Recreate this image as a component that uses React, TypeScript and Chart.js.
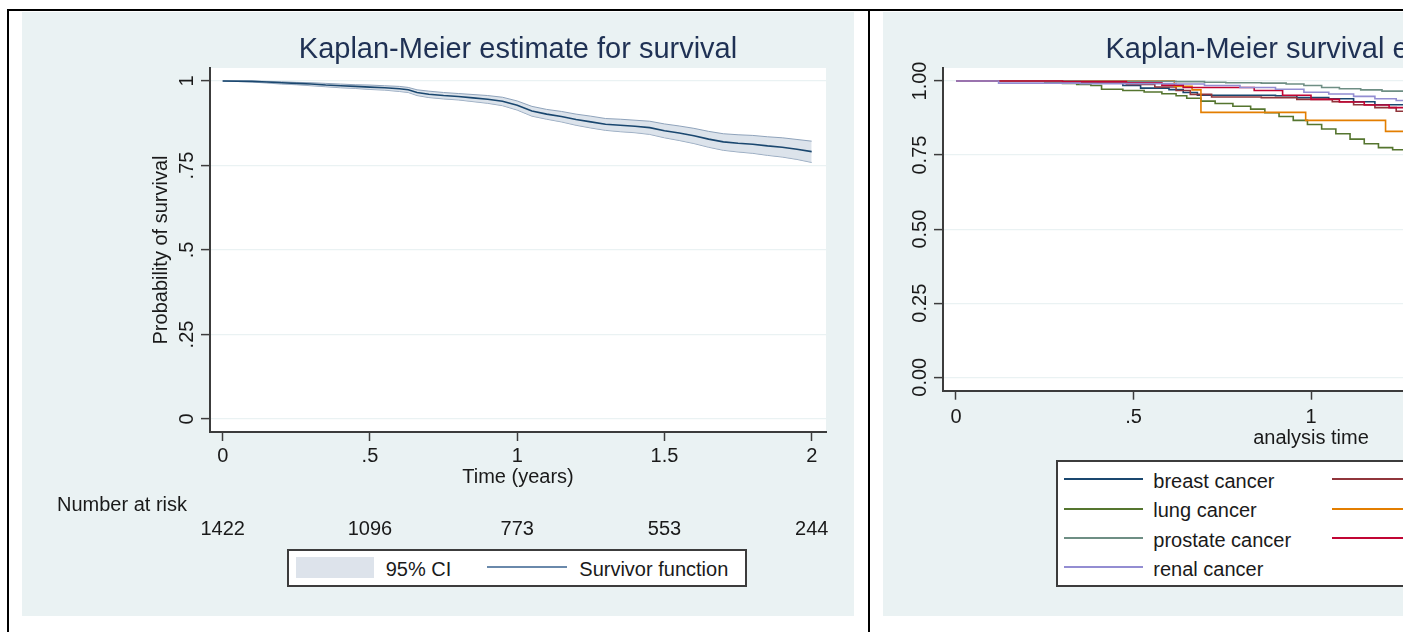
import React, { useEffect, useRef } from "react";
import { Chart, registerables } from "chart.js";

Chart.register(...registerables);

const FONT = "'Liberation Sans', Arial, Helvetica, sans-serif";
const TEXT = "#1a1a1a";
const TITLE_COLOR = "#1f3154";
const AXIS = "#3c3c3c";
const GRID = "#eaf2f3";
const BG = "#eaf2f3";
const NAVY = "#1a476f";
const CI_FILL = "rgba(196,208,222,0.6)";
const CI_EDGE = "#8fa3bb";

// ---------- Left panel: overall Kaplan-Meier estimate ----------
const kmTime = [0, 0.1, 0.15, 0.2, 0.25, 0.3, 0.35, 0.4, 0.45, 0.5, 0.55, 0.6, 0.63, 0.66, 0.7, 0.75, 0.8, 0.85, 0.9, 0.95, 1.0, 1.05, 1.1, 1.15, 1.2, 1.25, 1.3, 1.35, 1.4, 1.45, 1.5, 1.55, 1.6, 1.65, 1.7, 1.75, 1.8, 1.85, 1.9, 1.95, 2.0];
const kmSurv = [1.0, 0.999, 0.997, 0.995, 0.993, 0.991, 0.988, 0.986, 0.984, 0.982, 0.98, 0.977, 0.974, 0.966, 0.961, 0.957, 0.954, 0.95, 0.946, 0.94, 0.928, 0.911, 0.902, 0.895, 0.886, 0.879, 0.872, 0.869, 0.866, 0.862, 0.853, 0.846, 0.838, 0.828, 0.82, 0.816, 0.813, 0.808, 0.804, 0.798, 0.791];
const kmUpper = [1.0, 1.0, 0.999, 0.998, 0.996, 0.995, 0.993, 0.991, 0.989, 0.988, 0.986, 0.984, 0.981, 0.974, 0.97, 0.966, 0.963, 0.96, 0.957, 0.952, 0.941, 0.925, 0.916, 0.91, 0.902, 0.896, 0.889, 0.887, 0.884, 0.881, 0.873, 0.867, 0.86, 0.851, 0.844, 0.841, 0.839, 0.835, 0.832, 0.827, 0.822];
const kmLower = [1.0, 0.997, 0.994, 0.991, 0.989, 0.986, 0.983, 0.98, 0.978, 0.975, 0.973, 0.969, 0.966, 0.957, 0.951, 0.947, 0.944, 0.939, 0.934, 0.927, 0.914, 0.896, 0.887, 0.879, 0.869, 0.861, 0.854, 0.85, 0.847, 0.842, 0.832, 0.824, 0.815, 0.804, 0.795, 0.79, 0.786, 0.78, 0.775, 0.768, 0.759];

const xTickValues = [0, 0.5, 1, 1.5, 2];
const xTickLabels = ["0", ".5", "1", "1.5", "2"];
const yTickValues = [0, 0.25, 0.5, 0.75, 1];
const leftYTickLabels = ["0", ".25", ".5", ".75", "1"];
const rightYTickLabels = ["0.00", "0.25", "0.50", "0.75", "1.00"];

const atRiskTimes = [0, 0.5, 1, 1.5, 2];
const atRiskCounts = [1422, 1096, 773, 553, 244];

// ---------- Right panel: survival by cancer type ----------
const groupNames = ["breast cancer", "colon cancer", "lung cancer", "ovarian cancer", "prostate cancer", "rectal cancer", "renal cancer"];
const groupColors = ["#1a476f", "#90353b", "#55752f", "#e37e00", "#6e8e84", "#c10534", "#938dd2"];

const breastTime = [0, 0.15, 0.3, 0.4, 0.47, 0.52, 0.6, 0.64, 0.68, 0.9, 0.96, 1.05, 1.12, 1.18, 1.3];
const breastSurv = [1, 0.999, 0.997, 0.993, 0.985, 0.976, 0.971, 0.961, 0.952, 0.95, 0.944, 0.94, 0.93, 0.92, 0.918];
const colonTime = [0, 0.12, 0.3, 0.4, 0.48, 0.56, 0.62, 0.66, 0.72, 0.86, 0.96, 1.06, 1.12, 1.18, 1.24, 1.3];
const colonSurv = [1, 0.999, 0.997, 0.994, 0.988, 0.98, 0.968, 0.955, 0.946, 0.944, 0.938, 0.93, 0.92, 0.91, 0.898, 0.892];
const lungTime = [0, 0.15, 0.25, 0.3, 0.34, 0.38, 0.41, 0.47, 0.53, 0.58, 0.62, 0.65, 0.69, 0.73, 0.78, 0.83, 0.87, 0.91, 0.95, 0.99, 1.03, 1.07, 1.11, 1.15, 1.19, 1.23, 1.3];
const lungSurv = [1, 0.999, 0.996, 0.992, 0.988, 0.985, 0.972, 0.968, 0.963, 0.957, 0.95, 0.942, 0.932, 0.924, 0.915, 0.905, 0.893, 0.88, 0.867, 0.853, 0.838, 0.822, 0.804, 0.788, 0.775, 0.768, 0.766];
const ovarianTime = [0, 0.615, 0.665, 0.69, 0.985, 1.21, 1.3];
const ovarianSurv = [1, 0.982, 0.97, 0.894, 0.867, 0.83, 0.83];
const prostateTime = [0, 0.35, 0.62, 0.7, 0.76, 0.86, 0.93, 0.98, 1.03, 1.08, 1.14, 1.2, 1.3];
const prostateSurv = [1, 0.999, 0.998, 0.996, 0.994, 0.993, 0.99, 0.985, 0.978, 0.974, 0.97, 0.966, 0.963];
const rectalTime = [0, 0.3, 0.48, 0.58, 0.64, 0.84, 0.92, 1.0, 1.08, 1.15, 1.22, 1.27, 1.3];
const rectalSurv = [1, 0.998, 0.994, 0.986, 0.978, 0.968, 0.952, 0.938, 0.929, 0.919, 0.91, 0.888, 0.886];
const renalTime = [0, 0.12, 0.35, 0.62, 0.7, 0.8, 0.9, 0.98, 1.05, 1.12, 1.18, 1.24, 1.3];
const renalSurv = [1, 0.993, 0.991, 0.99, 0.985, 0.978, 0.972, 0.962, 0.956, 0.948, 0.94, 0.934, 0.932];

const groupTimes = [breastTime, colonTime, lungTime, ovarianTime, prostateTime, rectalTime, renalTime];
const groupSurv = [breastSurv, colonSurv, lungSurv, ovarianSurv, prostateSurv, rectalSurv, renalSurv];

Chart.defaults.font.family = FONT;
Chart.defaults.color = TEXT;

const toPoints = (xs: number[], ys: number[]) => xs.map((x, i) => ({ x, y: ys[i] }));

const plotBg = {
  id: "plotBg",
  beforeDraw(chart: any) {
    const { ctx, chartArea } = chart;
    ctx.save();
    ctx.fillStyle = "#ffffff";
    ctx.fillRect(chartArea.left, chartArea.top, chartArea.width, chartArea.height);
    ctx.restore();
  },
};

const atRiskPlugin = {
  id: "atRisk",
  afterDraw(chart: any) {
    const { ctx } = chart;
    const xs = chart.scales.x;
    ctx.save();
    ctx.font = `20px ${FONT}`;
    ctx.fillStyle = TEXT;
    ctx.textBaseline = "middle";
    ctx.textAlign = "left";
    ctx.fillText("Number at risk", 35, 493.5);
    ctx.textAlign = "center";
    atRiskTimes.forEach((t, i) => {
      ctx.fillText(String(atRiskCounts[i]), xs.getPixelForValue(t), 517.5);
    });
    ctx.restore();
  },
};

function axisX(min: number, max: number, title: string, pad: number, titlePadBottom: number) {
  return {
    type: "linear" as const,
    min,
    max,
    afterBuildTicks: (s: any) => {
      s.ticks = xTickValues.map((v) => ({ value: v }));
    },
    afterFit: (s: any) => {
      s.height = 60;
    },
    ticks: {
      callback: (v: any) => xTickLabels[xTickValues.indexOf(Number(v))],
      font: { size: 20 },
      color: TEXT,
      padding: pad,
      maxRotation: 0,
      minRotation: 0,
      autoSkip: false,
    },
    grid: { drawOnChartArea: false, tickLength: 9, tickColor: AXIS, tickWidth: 1.5 },
    border: { color: AXIS, width: 2 },
    title: { display: true, text: title, font: { size: 20 }, color: TEXT, padding: { top: 0, bottom: titlePadBottom } },
  };
}

function axisY(min: number, max: number, labels: string[], width: number, pad: number, title?: string, titlePadTop?: number) {
  return {
    type: "linear" as const,
    min,
    max,
    afterBuildTicks: (s: any) => {
      s.ticks = yTickValues.map((v) => ({ value: v }));
    },
    afterFit: (s: any) => {
      s.width = width;
    },
    ticks: {
      callback: (v: any) => labels[yTickValues.indexOf(Number(v))],
      font: { size: 20 },
      color: TEXT,
      padding: pad,
      minRotation: 90,
      maxRotation: 90,
      crossAlign: "center" as const,
      autoSkip: false,
    },
    grid: { drawOnChartArea: true, color: GRID, lineWidth: 1.2, tickLength: 9, tickColor: AXIS, tickWidth: 1.5 },
    border: { color: AXIS, width: 2 },
    title: title
      ? { display: true, text: title, font: { size: 20 }, color: TEXT, padding: { top: titlePadTop, bottom: 0 } }
      : { display: false },
  };
}

const titleOpts = (text: string) => ({
  display: true,
  text,
  fullSize: false,
  color: TITLE_COLOR,
  font: { size: 29, weight: "normal" },
  padding: { top: 20.9, bottom: 0.3 },
});

function LeftChart() {
  const ref = useRef<HTMLCanvasElement>(null);
  useEffect(() => {
    const chart = new Chart(ref.current as HTMLCanvasElement, {
      type: "line",
      data: {
        datasets: [
          { label: "Survivor function", data: toPoints(kmTime, kmSurv), borderColor: NAVY, borderWidth: 1.6, pointRadius: 0, fill: false },
          { label: "95% CI upper", data: toPoints(kmTime, kmUpper), borderColor: CI_EDGE, borderWidth: 1, pointRadius: 0, fill: "+1", backgroundColor: CI_FILL },
          { label: "95% CI lower", data: toPoints(kmTime, kmLower), borderColor: CI_EDGE, borderWidth: 1, pointRadius: 0, fill: false },
        ],
      },
      options: {
        animation: false,
        responsive: false,
        events: [],
        layout: { padding: { left: 0, right: 28, top: 0, bottom: 124 } },
        plugins: {
          legend: { display: false },
          tooltip: { enabled: false },
          title: titleOpts("Kaplan-Meier estimate for survival"),
        },
        scales: {
          x: axisX(-0.0431, 2.0486, "Time (years)", 3, 2.5),
          y: axisY(-0.0385, 1.0385, leftYTickLabels, 188, 0, "Probability of survival", 127),
        },
      } as any,
      plugins: [plotBg, atRiskPlugin],
    });
    return () => chart.destroy();
  }, []);
  return <canvas ref={ref} width={832} height={604} style={{ display: "block" }} />;
}

function RightChart() {
  const ref = useRef<HTMLCanvasElement>(null);
  useEffect(() => {
    const chart = new Chart(ref.current as HTMLCanvasElement, {
      type: "line",
      data: {
        datasets: groupNames.map((name, i) => ({
          label: name,
          data: toPoints(groupTimes[i], groupSurv[i]),
          stepped: true,
          borderColor: groupColors[i],
          borderWidth: 1.6,
          pointRadius: 0,
          fill: false,
          order: groupNames.length - i,
        })),
      },
      options: {
        animation: false,
        responsive: false,
        events: [],
        layout: { padding: { left: 0, right: 36, top: 0, bottom: 165.3 } },
        plugins: {
          legend: { display: false },
          tooltip: { enabled: false },
          title: titleOpts("Kaplan-Meier survival estimates"),
        },
        scales: {
          x: axisX(-0.0366, 2.0366, "analysis time", 5.5, 0),
          y: axisY(-0.0453, 1.0439, rightYTickLabels, 60, -6),
        },
      } as any,
      plugins: [plotBg],
    });
    return () => chart.destroy();
  }, []);
  return <canvas ref={ref} width={832} height={604} style={{ display: "block" }} />;
}

const legendText: React.CSSProperties = {
  position: "absolute",
  fontFamily: FONT,
  fontSize: 20,
  lineHeight: "24px",
  color: TEXT,
  whiteSpace: "nowrap",
};

function LeftLegend() {
  return (
    <div style={{ position: "absolute", left: 287, top: 549, width: 460, height: 38, boxSizing: "border-box", border: `2px solid ${AXIS}`, background: "#fff" }}>
      <div style={{ position: "absolute", left: 6.7, top: 6, width: 78, height: 21, background: "#dde3eb" }} />
      <div style={{ ...legendText, left: 96.7, top: 5.5 }}>95% CI</div>
      <div style={{ position: "absolute", left: 198, top: 15.3, width: 80, height: 2, background: "#6a89ab" }} />
      <div style={{ ...legendText, left: 290.3, top: 5.5 }}>Survivor function</div>
    </div>
  );
}

const legendOrder = [0, 2, 4, 6, 1, 3, 5];

function RightLegend() {
  return (
    <div style={{ position: "absolute", left: 1056, top: 460, width: 510, height: 127, boxSizing: "border-box", border: `2px solid ${AXIS}`, background: "#fff" }}>
      {legendOrder.map((g, k) => {
        const col = k < 4 ? 0 : 1;
        const row = k < 4 ? k : k - 4;
        const lineLeft = col === 0 ? 6.3 : 273.7;
        const textLeft = col === 0 ? 95.3 : 363;
        return (
          <React.Fragment key={g}>
            <div style={{ position: "absolute", left: lineLeft, top: 16.3 + row * 29.3, width: 78.4, height: 2, background: groupColors[g] }} />
            <div style={{ ...legendText, left: textLeft, top: 6.7 + row * 29.4 }}>{groupNames[g]}</div>
          </React.Fragment>
        );
      })}
    </div>
  );
}

export default function App() {
  return (
    <div style={{ position: "fixed", left: 0, top: 0, width: 1403, height: 632, overflow: "hidden", background: "#fff" }}>
      <div style={{ position: "absolute", left: 7, top: 9, width: 1396, height: 2, background: "#000" }} />
      <div style={{ position: "absolute", left: 7, top: 9, width: 2, height: 623, background: "#000" }} />
      <div style={{ position: "absolute", left: 868, top: 9, width: 2, height: 623, background: "#000" }} />
      <div style={{ position: "absolute", left: 22, top: 12, width: 832, height: 604, background: BG }}>
        <LeftChart />
      </div>
      <div style={{ position: "absolute", left: 883, top: 12, width: 832, height: 604, background: BG }}>
        <RightChart />
      </div>
      <LeftLegend />
      <RightLegend />
    </div>
  );
}
